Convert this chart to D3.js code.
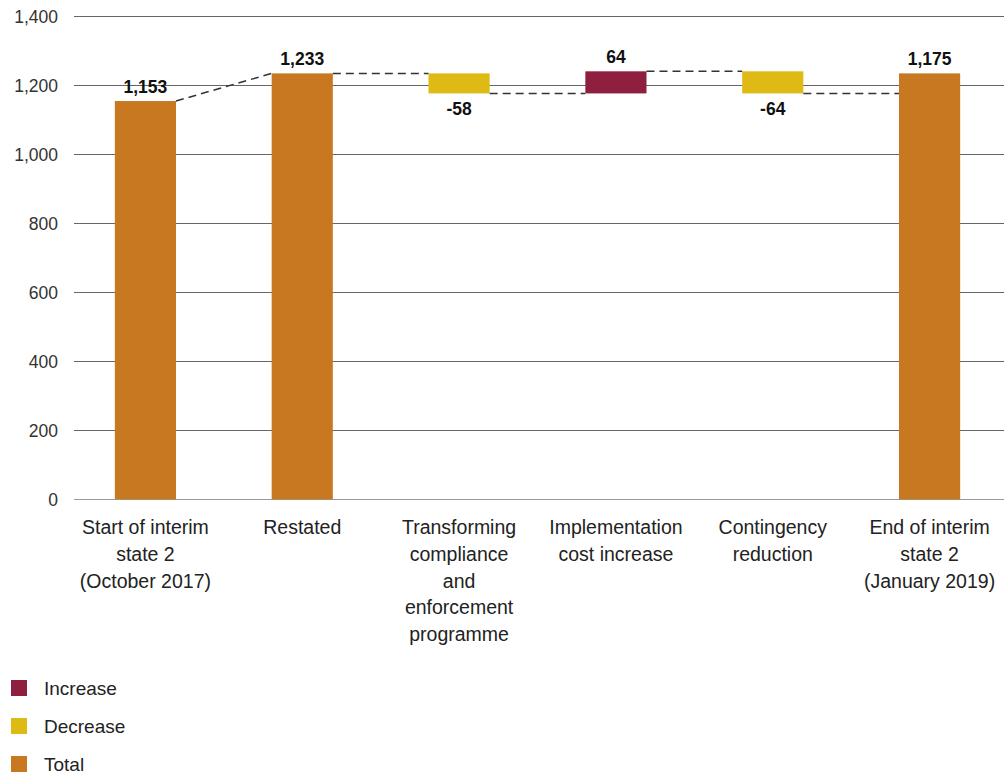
<!DOCTYPE html>
<html>
<head>
<meta charset="utf-8">
<script src="https://cdn.jsdelivr.net/npm/d3@7"></script>
<style>
  body { margin: 0; background: #fff; }
  svg text { font-family: "Liberation Sans", Arial, sans-serif; }
  .tick-label { font-size: 17.5px; fill: #333; }
  .cat-label { font-size: 19.5px; fill: #222; }
  .val-label { font-size: 17.5px; font-weight: bold; fill: #111; }
  .legend-label { font-size: 19px; fill: #222; }
</style>
</head>
<body>
<div id="chart"></div>
<script>
var categories = [
    ["Start of interim", "state 2", "(October 2017)"],
    ["Restated"],
    ["Transforming", "compliance", "and", "enforcement", "programme"],
    ["Implementation", "cost increase"],
    ["Contingency", "reduction"],
    ["End of interim", "state 2", "(January 2019)"]
];
var values = [1153, 1233, -58, 64, -64, 1175];
var kinds = ["Total", "Total", "Decrease", "Increase", "Decrease", "Total"];
// bar spans as drawn in the source picture (the last bar is drawn taller than its label)
var barFrom = [0, 0, 1233, 1175, 1239, 0];
var barTo = [1153, 1233, 1175, 1239, 1175, 1233];
var yTicks = [0, 200, 400, 600, 800, 1000, 1200, 1400];
var legendItems = ["Increase", "Decrease", "Total"];

var colors = { Increase: "#8E1F3F", Decrease: "#DFBA15", Total: "#C87820" };

var width = 1008;
var height = 776;

function fmt(d) {
    // plain hyphen for negatives, like the source
    return d3.format(",")(d).replace("\u2212", "-");
}

var svg = d3.select("#chart").append("svg")
    .attr("width", width)
    .attr("height", height);

var x = d3.scaleBand()
    .domain(d3.range(categories.length))
    .range([67, 1008])
    .paddingInner(0.61)
    .paddingOuter(0.305);

var y = d3.scaleLinear()
    .domain([0, 1400])
    .range([499.3, 15.7]);

// Gridlines and tick labels.
svg.selectAll(".grid").data(yTicks).enter().append("line")
    .attr("class", "grid")
    .attr("x1", 74)
    .attr("x2", 1004)
    .attr("y1", function(d) { return Math.round(y(d)) + 0.5; })
    .attr("y2", function(d) { return Math.round(y(d)) + 0.5; })
    .attr("stroke", function(d) { return d == 0 ? "#9a9a9a" : "#666"; })
    .attr("stroke-width", 1);

svg.selectAll(".tick-label").data(yTicks).enter().append("text")
    .attr("class", "tick-label")
    .attr("x", 58)
    .attr("y", function(d) { return y(d) + 7; })
    .attr("text-anchor", "end")
    .text(function(d) { return fmt(d); });

// Bars.
svg.selectAll(".bar").data(values).enter().append("rect")
    .attr("class", "bar")
    .attr("x", function(d, i) { return x(i); })
    .attr("width", x.bandwidth())
    .attr("y", function(d, i) { return y(Math.max(barFrom[i], barTo[i])); })
    .attr("height", function(d, i) { return Math.abs(y(barFrom[i]) - y(barTo[i])); })
    .attr("fill", function(d, i) { return colors[kinds[i]]; });

// Dashed connectors between consecutive bars.
var connectors = [];
for (var i = 0; i < values.length - 1; i++) {
    var level = barTo[i];
    var nextLevel = (kinds[i + 1] == "Total") ? barTo[i + 1] : barFrom[i + 1];
    if (i == values.length - 2) nextLevel = level;
    connectors.push({ x1: x(i) + x.bandwidth(), y1: y(level), x2: x(i + 1), y2: y(nextLevel) });
}
svg.selectAll(".connector").data(connectors).enter().append("line")
    .attr("class", "connector")
    .attr("x1", function(d) { return d.x1; })
    .attr("y1", function(d) { return d.y1; })
    .attr("x2", function(d) { return d.x2; })
    .attr("y2", function(d) { return d.y2; })
    .attr("stroke", "#333")
    .attr("stroke-width", 1.5)
    .attr("stroke-dasharray", "8,5");

// Value labels.
svg.selectAll(".val-label").data(values).enter().append("text")
    .attr("class", "val-label")
    .attr("x", function(d, i) { return x(i) + x.bandwidth() / 2; })
    .attr("y", function(d, i) {
        if (kinds[i] == "Decrease") return y(Math.min(barFrom[i], barTo[i])) + 22;
        return y(Math.max(barFrom[i], barTo[i])) - 8;
    })
    .attr("text-anchor", "middle")
    .text(function(d) { return fmt(d); });

// Category labels.
var catText = svg.selectAll(".cat-label").data(categories).enter().append("text")
    .attr("class", "cat-label")
    .attr("text-anchor", "middle")
    .attr("x", function(d, i) { return x(i) + x.bandwidth() / 2; })
    .attr("y", 534);
catText.selectAll("tspan").data(function(d) { return d; }).enter().append("tspan")
    .attr("x", function() { return d3.select(this.parentNode).attr("x"); })
    .attr("dy", function(d, j) { return j == 0 ? 0 : 26.8; })
    .text(function(d) { return d; });

// Legend.
var legend = svg.selectAll(".legend").data(legendItems).enter().append("g")
    .attr("class", "legend")
    .attr("transform", function(d, i) { return "translate(11," + (680 + i * 38) + ")"; });
legend.append("rect")
    .attr("width", 16)
    .attr("height", 16)
    .attr("fill", function(d) { return colors[d]; });
legend.append("text")
    .attr("class", "legend-label")
    .attr("x", 33)
    .attr("y", 15)
    .text(function(d) { return d; });
</script>
</body>
</html>
